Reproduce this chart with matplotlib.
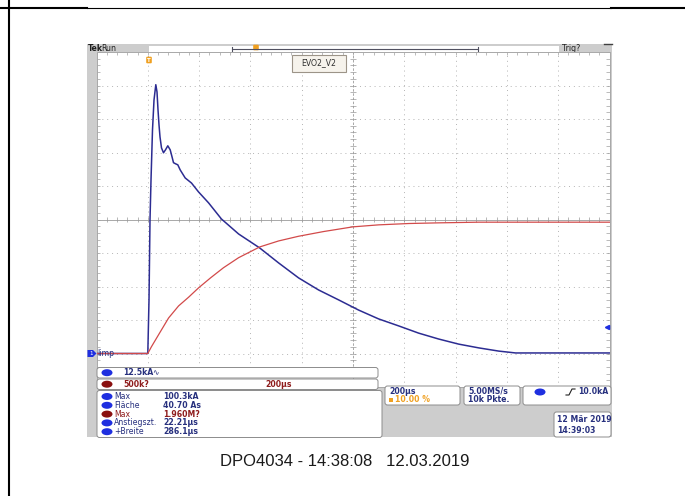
import matplotlib
matplotlib.use("Agg")
import matplotlib.pyplot as plt
from matplotlib.patches import FancyBboxPatch, Rectangle, Ellipse, Polygon

# channel 1 (Iimp) current in kA, time in us (trigger at t = 0)
t_imp = [-200, 0, 4.7, 8.6, 12.5, 18.3, 24.2, 31.2, 35.9, 39.8, 43.7, 47.6, 53.4,
         61.2, 69.0, 78.0, 87.3, 94.4, 100.2, 108.0, 117.0, 126.3, 145.8, 170.4,
         197.7, 237, 287, 354, 436, 510, 588, 666, 744, 822, 900, 978, 1056,
         1134, 1212, 1290, 1368, 1434, 1800]
i_imp = [0, 0, 20.0, 49.8, 64.7, 83.4, 94.6, 100.3, 97.6, 90.9, 85.3, 80.8, 76.7,
         74.9, 76.0, 77.5, 76.0, 73.4, 71.2, 70.8, 70.4, 68.5, 65.5, 63.6,
         60.3, 56.2, 50.2, 44.6, 39.4, 33.8, 28.2, 23.7, 20.0, 16.2, 12.9, 10.3, 7.6,
         5.4, 3.5, 2.1, 0.9, 0.2, 0.2]

# math channel in M? (500k?/div)
t_math = [-200, 0, 14, 42, 81, 120, 159, 198, 245, 295, 354, 436, 510, 588, 685,
          799, 900, 1017, 1134, 1290, 1800]
m_math = [0, 0, 0.10, 0.28, 0.53, 0.71, 0.84, 0.98, 1.13, 1.28, 1.43, 1.59, 1.68, 1.75, 1.82,
          1.89, 1.92, 1.94, 1.95, 1.96, 1.96]

ch1_scale = 12.5   # kA/div
math_scale = 0.5   # M?/div
trig_level = 10.0  # kA

meas_labels = ["Max", "Fläche", "Max", "Anstiegszt.", "+Breite"]
meas_values = ["100.3kA", "40.70 As", "1.960M?", "22.21µs", "286.1µs"]
meas_math = [False, False, True, False, False]

navy = "#27307e"
dred = "#8e1b1b"
oval_blue = "#1f2fe0"
oval_red = "#8a1010"
orange = "#f0a020"
gray = "#cdcdcd"
fs = 5.6

fig = plt.figure(figsize=(6.85, 4.96), dpi=100)

bg = fig.add_axes([0, 0, 1, 1], zorder=0)
bg.set_xlim(0, 685)
bg.set_ylim(496, 0)
bg.axis("off")

# page border lines
bg.plot([9, 9], [0, 496], color="black", lw=1.5)
bg.plot([0, 87], [8, 8], color="black", lw=1.5)
bg.plot([611, 685], [8, 8], color="black", lw=1.5)
bg.plot([87, 611], [7.5, 7.5], color="black", lw=0.8)

# scope frame
bg.add_patch(Rectangle((87, 44), 525, 393, facecolor=gray, edgecolor="none"))
bg.add_patch(Rectangle((149, 46), 410, 6, facecolor="white", edgecolor="none"))
bg.plot([232, 478], [48.5, 48.5], color="#505060", lw=0.8)
bg.plot([232, 232], [46.5, 51], color="#505060", lw=0.8)
bg.plot([478, 478], [46.5, 51], color="#505060", lw=0.8)
bg.plot([604, 612], [43.5, 43.5], color="#404040", lw=1)
bg.text(87.5, 48.5, "Tek", fontsize=fs, fontweight="bold", color="#202020", va="center")
bg.text(101, 48.5, "Run", fontsize=fs, color="#202020", va="center")
bg.text(562, 48.5, "Trig?", fontsize=fs, color="#202020", va="center")
bg.add_patch(FancyBboxPatch((253.5, 45), 5, 5, boxstyle="round,pad=0.3,rounding_size=1",
                            facecolor=orange, edgecolor="none"))

# graticule
ax = fig.add_axes([96.5 / 685, 1 - 387 / 496, 513 / 685, 335 / 496], zorder=1)
ax.set_xlim(-200, 1800)
ax.set_ylim(-1, 9)
ax.set_facecolor("white")
for s in ax.spines.values():
    s.set_color("#a8a8a8")
    s.set_linewidth(0.7)
ax.set_xticks([])
ax.set_yticks([])

gcol = "#b4b4b4"
for tv in range(0, 1800, 200):
    if tv != 800:
        ax.axvline(tv, color=gcol, lw=0.7, ls=(0, (1, 4)))
for yv in range(0, 9):
    if yv != 4:
        ax.axhline(yv, color=gcol, lw=0.7, ls=(0, (1, 4)))
ax.axhline(4, color="#9a9a9a", lw=0.6)
ax.axvline(800, color="#9a9a9a", lw=0.6, ls=(0, (3, 2)))
minor_t = [-200 + 40 * k for k in range(51)]
minor_y = [-1 + 0.2 * k for k in range(51)]
ax.vlines(minor_t, 4 - 0.07, 4 + 0.07, color="#9a9a9a", lw=0.5)
ax.hlines(minor_y, 800 - 10, 800 + 10, color="#9a9a9a", lw=0.5)
ax.vlines(minor_t, 9 - 0.1, 9, color="#a0a0a0", lw=0.5)
ax.hlines(minor_y, 1800 - 14, 1800, color="#a0a0a0", lw=0.5)
ax.hlines(minor_y, -200, -200 + 14, color="#a0a0a0", lw=0.5)

ax.plot(t_imp, [v / ch1_scale for v in i_imp], color="#2c2c92", lw=1.1, zorder=3)
ax.plot(t_math, [v / math_scale for v in m_math], color="#d24a4a", lw=0.9, zorder=4)

# overlay: markers and readouts
fg = fig.add_axes([0, 0, 1, 1], zorder=2)
fg.set_xlim(0, 685)
fg.set_ylim(496, 0)
fg.axis("off")
fg.patch.set_alpha(0)

# trigger position marker
fg.add_patch(FancyBboxPatch((146.5, 57), 5, 6, boxstyle="round,pad=0.3,rounding_size=1",
                            facecolor=orange, edgecolor="none"))
fg.text(149, 60, "T", fontsize=4, color="white", ha="center", va="center", fontweight="bold")

# ground marker / label
y0 = 353.5
fg.add_patch(Polygon([[87.5, y0 - 3.5], [93, y0 - 3.5], [96.5, y0], [93, y0 + 3.5], [87.5, y0 + 3.5]],
                     closed=True, facecolor=oval_blue, edgecolor="none"))
fg.text(91, y0, "1", fontsize=4, color="white", ha="center", va="center")
fg.text(97.5, y0, "Iimp", fontsize=fs, color=navy, va="center")

# trigger level arrow
fg.plot([607], [y0 - trig_level / ch1_scale * 33.5], marker="<", ms=3, color=oval_blue)

# label box
fg.add_patch(Rectangle((292, 54.5), 54, 17, facecolor="#f6f3ec", edgecolor="#9c9488", lw=0.8))
fg.text(319, 63, "EVO2_V2", fontsize=fs, color="#303030", ha="center", va="center")


def rbox(x, y, w, h):
    fg.add_patch(FancyBboxPatch((x, y), w, h, boxstyle="round,pad=0,rounding_size=2.5",
                                facecolor="white", edgecolor="#8c8c8c", lw=0.7))


def oval(x, y, col):
    fg.add_patch(Ellipse((x, y), 11, 7, facecolor=col, edgecolor="none"))


rbox(97, 367.5, 281, 10.5)
oval(107, 372.7, oval_blue)
fg.text(123, 372.7, "12.5kA", fontsize=fs, color=navy, va="center", fontweight="bold")
fg.text(152, 372.7, "∿", fontsize=fs, color=navy, va="center")

rbox(97, 379, 281, 10.5)
oval(107, 384.2, oval_red)
fg.text(123, 384.2, "500k?", fontsize=fs, color=dred, va="center", fontweight="bold")
fg.text(265, 384.2, "200µs", fontsize=fs, color=dred, va="center", fontweight="bold")

rbox(97, 390.5, 285, 47)
for k, (lab, val, is_m) in enumerate(zip(meas_labels, meas_values, meas_math)):
    yy = 396.5 + k * 8.8
    col = dred if is_m else navy
    oval(107, yy, oval_red if is_m else oval_blue)
    fg.text(114, yy, lab, fontsize=fs, color=col, va="center")
    fg.text(163, yy, val, fontsize=fs, color=col, va="center", fontweight="bold")

rbox(385, 386, 75, 19)
fg.text(389, 391.5, "200µs", fontsize=fs, color=navy, va="center", fontweight="bold")
fg.add_patch(Rectangle((389, 398), 4, 4, facecolor=orange, edgecolor="none"))
fg.text(395, 400, "10.00 %", fontsize=fs, color=orange, va="center", fontweight="bold")

rbox(464, 386, 56, 19)
fg.text(468, 391.5, "5.00MS/s", fontsize=fs, color=navy, va="center", fontweight="bold")
fg.text(468, 400, "10k Pkte.", fontsize=fs, color=navy, va="center", fontweight="bold")

rbox(523, 386, 88, 19)
oval(540, 392, oval_blue)
# rising-edge trigger symbol
fg.plot([566, 569, 572, 575], [395, 395, 389, 389], color="#202020", lw=0.8)
fg.text(608, 392, "10.0kA", fontsize=fs, color=navy, va="center", ha="right", fontweight="bold")

rbox(554, 412, 57, 25)
fg.text(557, 420, "12 Mär 2019", fontsize=fs, color=navy, va="center", fontweight="bold")
fg.text(557, 430.5, "14:39:03", fontsize=fs, color=navy, va="center", fontweight="bold")

# caption
fg.text(345, 462, "DPO4034 - 14:38:08   12.03.2019", fontsize=12, color="#1a1a1a",
        ha="center", va="center", family="Liberation Sans")

fig.savefig("out.png", dpi=100)
